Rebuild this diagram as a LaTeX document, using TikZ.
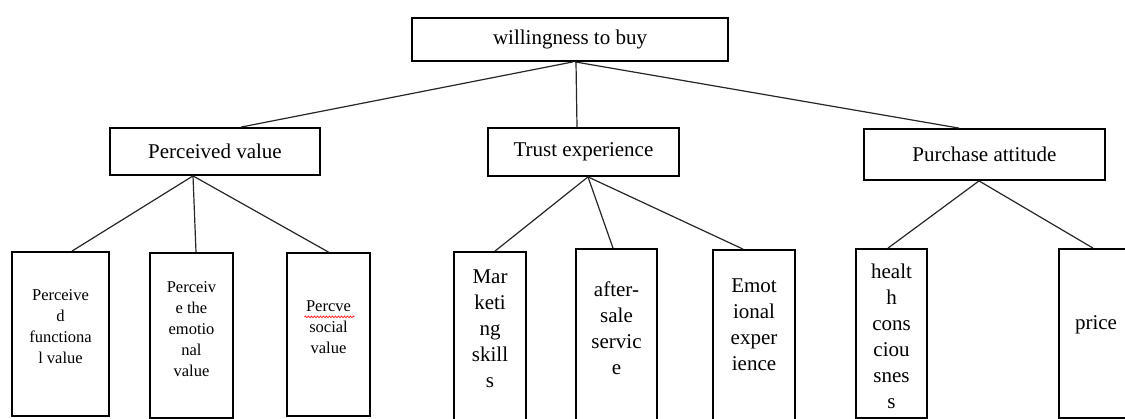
\documentclass[tikz,border=0pt]{standalone}
\usepackage{fontspec}
\setmainfont{Liberation Serif}
\usetikzlibrary{decorations.pathmorphing}

\begin{document}
\begin{tikzpicture} [x=1pt, y=-1pt,
    box/.style={draw, line width=1.8pt, inner sep=0pt},
    conn/.style={line width=1.2pt, black!85},
    big/.style={font=\fontsize{21}{26}\selectfont, align=center, inner sep=0pt},
    small/.style={font=\fontsize{16.5}{21}\selectfont, align=center, inner sep=0pt}]
      % 範囲
      \clip (0,0) rectangle (1125,419);

      % 上段
      \node [box, big, minimum width=316pt, minimum height=43pt] (top) at (570,39.5) {willingness to buy};

      % 中段
      \node [box, big, minimum width=210pt, minimum height=47pt] (pv) at (215,151.5) {Perceived value};
      \node [box, big, minimum width=191pt, minimum height=48pt] (te) at (583.5,152) {Trust experience};
      \node [box, big, minimum width=241pt, minimum height=51pt] (pa) at (984.5,154.5) {Purchase attitude};

      % 下段の枠
      \node [box, minimum width=97pt, minimum height=164pt] (l1) at (60.5,334) {};
      \node [box, minimum width=83pt, minimum height=165pt] (l2) at (191.5,335.5) {};
      \node [box, minimum width=83pt, minimum height=163pt] (l3) at (328.5,334.5) {};
      \node [box, minimum width=72pt, minimum height=188pt] (m1) at (490,346) {};
      \node [box, minimum width=81pt, minimum height=191pt] (m2) at (616.5,344.5) {};
      \node [box, minimum width=82pt, minimum height=190pt] (m3) at (754,345) {};
      \node [box, minimum width=71pt, minimum height=169pt] (r1) at (891.5,333.5) {};
      \node [box, minimum width=74pt, minimum height=169pt] (r2) at (1096,333.5) {};

      % 下段の文字
      \node [small] (l1t) at (60.5,327) {Perceive\\d\\functiona\\l value};
      \node [small] (l2t) at (191.5,329) {Perceiv\\e the\\emotio\\nal\\value};
      \node [small] (l3t) at (328.5,327) {Percve\\social\\value};
      \node [big] (m1t) at (490,329) {Mar\\keti\\ng\\skill\\s};
      \node [big] (m2t) at (616.5,328) {after-\\sale\\servic\\e};
      \node [big] (m3t) at (754,325) {Emot\\ional\\exper\\ience};
      \node [big] (r1t) at (891.5,336) {healt\\h\\cons\\ciou\\snes\\s};
      \node [big] (r2t) at (1096,325) {price};

      % 波線
      \draw [red, line width=0.6pt, decorate, decoration={snake, amplitude=0.9pt, segment length=3pt}]
        ([xshift=-24pt, yshift=-16.5pt]l3t.north) -- ([xshift=26pt, yshift=-16.5pt]l3t.north);

      % 線
      \draw [conn] ([xshift=3pt]top.south) -- ([xshift=26pt]pv.north);
      \draw [conn] ([xshift=6pt]top.south) -- ([xshift=-6.5pt]te.north);
      \draw [conn] ([xshift=5pt]top.south) -- ([xshift=-25.5pt]pa.north);

      \draw [conn] ([xshift=-22pt]pv.south) -- ([xshift=11.5pt]l1.north);
      \draw [conn] ([xshift=-22pt]pv.south) -- ([xshift=4.5pt]l2.north);
      \draw [conn] ([xshift=-22pt]pv.south) -- (l3.north);

      \draw [conn] ([xshift=4.5pt]te.south) -- ([xshift=5pt]m1.north);
      \draw [conn] ([xshift=4.5pt]te.south) -- ([xshift=-3.5pt]m2.north);
      \draw [conn] ([xshift=4.5pt]te.south) -- ([xshift=-11pt]m3.north);

      \draw [conn] ([xshift=-5.5pt]pa.south) -- ([xshift=-3.5pt]r1.north);
      \draw [conn] ([xshift=-5.5pt]pa.south) -- ([xshift=-3pt]r2.north);
    \end{tikzpicture}
\end{document}
